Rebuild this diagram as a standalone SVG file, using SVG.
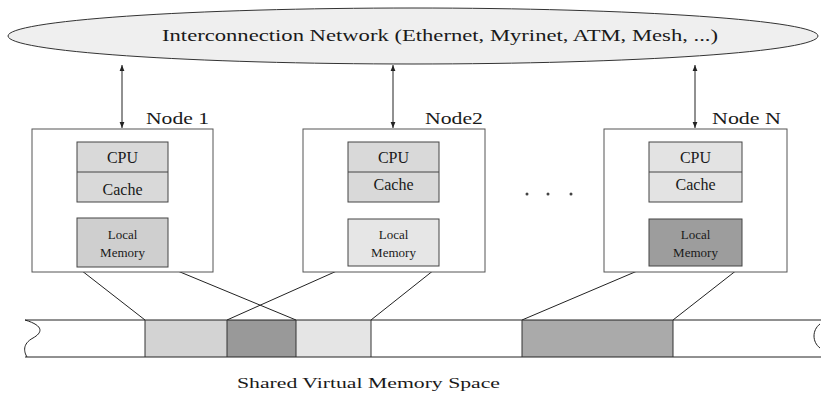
<svg xmlns="http://www.w3.org/2000/svg" width="821" height="397" viewBox="0 0 821 397">
<style>
text{font-family:"Liberation Serif","Times New Roman",serif;fill:#1a1a1a}
.box{fill:#fff;stroke:#555;stroke-width:1}
.cpu{stroke:#444;stroke-width:1}
.ln{stroke:#222;stroke-width:1;fill:none}
.lbl{font-size:16px}
.sm{font-size:13px;text-anchor:middle}
.md{font-size:16px;text-anchor:middle}
</style>
<defs>
<marker id="ah" viewBox="0 0 10 10" refX="10" refY="5" markerWidth="6" markerHeight="8" orient="auto-start-reverse" markerUnits="userSpaceOnUse">
<path d="M0,1 L10,5 L0,9 z" fill="#222"/>
</marker>
</defs>
<rect width="821" height="397" fill="#fff"/>
<g id="network">
<ellipse cx="413" cy="36" rx="405" ry="28" fill="#efefef" stroke="#333" stroke-width="1"/>
<text x="162" y="41" font-size="17" textLength="556" lengthAdjust="spacingAndGlyphs">Interconnection Network (Ethernet, Myrinet, ATM, Mesh, ...)</text>
</g>
<g id="connectors">
<line class="ln" x1="122" y1="65" x2="122" y2="128" marker-start="url(#ah)" marker-end="url(#ah)"/>
<line class="ln" x1="393" y1="65" x2="393" y2="128" marker-start="url(#ah)" marker-end="url(#ah)"/>
<line class="ln" x1="695" y1="65" x2="695" y2="128" marker-start="url(#ah)" marker-end="url(#ah)"/>
<line class="ln" x1="77" y1="267" x2="145" y2="320"/>
<line class="ln" x1="168" y1="267" x2="296" y2="320"/>
<line class="ln" x1="348" y1="266" x2="227" y2="320"/>
<line class="ln" x1="439" y1="266" x2="371" y2="320"/>
<line class="ln" x1="649" y1="266" x2="522" y2="320"/>
<line class="ln" x1="742" y1="266" x2="673" y2="320"/>
</g>
<g id="node1">
<rect class="box" x="32" y="129" width="181" height="143"/>
<text class="lbl" x="146" y="124" textLength="63" lengthAdjust="spacingAndGlyphs">Node 1</text>
<rect class="cpu" x="77" y="142" width="91" height="60" fill="#d9d9d9"/>
<line class="cpu" x1="77" y1="172" x2="168" y2="172"/>
<text class="md" x="122.5" y="163">CPU</text>
<text class="md" x="122.5" y="195">Cache</text>
<rect class="cpu" x="77" y="218" width="91" height="49" fill="#cfcfcf"/>
<text class="sm" x="122.5" y="239">Local</text>
<text class="sm" x="122.5" y="257">Memory</text>
</g>
<g id="node2">
<rect class="box" x="303" y="129" width="182" height="143"/>
<text class="lbl" x="425" y="124" textLength="58" lengthAdjust="spacingAndGlyphs">Node2</text>
<rect class="cpu" x="348" y="142" width="91" height="60" fill="#d9d9d9"/>
<line class="cpu" x1="348" y1="172" x2="439" y2="172"/>
<text class="md" x="393.5" y="163">CPU</text>
<text class="md" x="393.5" y="190">Cache</text>
<rect class="cpu" x="348" y="219" width="91" height="47" fill="#e6e6e6"/>
<text class="sm" x="393.5" y="239">Local</text>
<text class="sm" x="393.5" y="257">Memory</text>
</g>
<g id="dots">
<circle cx="527" cy="194" r="1.5" fill="#444"/>
<circle cx="548" cy="194" r="1.5" fill="#444"/>
<circle cx="571" cy="194" r="1.5" fill="#444"/>
</g>
<g id="nodeN">
<rect class="box" x="604" y="129" width="183" height="143"/>
<text class="lbl" x="712" y="124" textLength="69" lengthAdjust="spacingAndGlyphs">Node N</text>
<rect class="cpu" x="649" y="142" width="93" height="60" fill="#e3e3e3"/>
<line class="cpu" x1="649" y1="172" x2="742" y2="172"/>
<text class="md" x="695.5" y="163">CPU</text>
<text class="md" x="695.5" y="190">Cache</text>
<rect class="cpu" x="649" y="219" width="93" height="47" fill="#9d9d9d"/>
<text class="sm" x="695.5" y="239">Local</text>
<text class="sm" x="695.5" y="257">Memory</text>
</g>
<g id="memory">
<rect x="145" y="320" width="82" height="37" fill="#d3d3d3"/>
<rect x="227" y="320" width="69" height="37" fill="#999"/>
<rect x="296" y="320" width="75" height="37" fill="#e5e5e5"/>
<rect x="522" y="320" width="151" height="37" fill="#aaa"/>
<path class="ln" d="M25,320 L821,320 M25,357 L821,357" stroke="#555"/>
<path class="ln" d="M25,320 C45,326 42,333 33,338 C22,344 24,352 27,357" stroke="#777"/>
<path class="ln" d="M820,324 C812,330 812,342 820,348" stroke="#999"/>
<g stroke="#333" stroke-width="1">
<line x1="145" y1="320" x2="145" y2="357"/>
<line x1="227" y1="320" x2="227" y2="357"/>
<line x1="296" y1="320" x2="296" y2="357"/>
<line x1="371" y1="320" x2="371" y2="357"/>
<line x1="522" y1="320" x2="522" y2="357"/>
<line x1="673" y1="320" x2="673" y2="357"/>
</g>
<text x="237" y="388" font-size="14.5" textLength="263" lengthAdjust="spacingAndGlyphs">Shared Virtual Memory Space</text>
</g>
</svg>
